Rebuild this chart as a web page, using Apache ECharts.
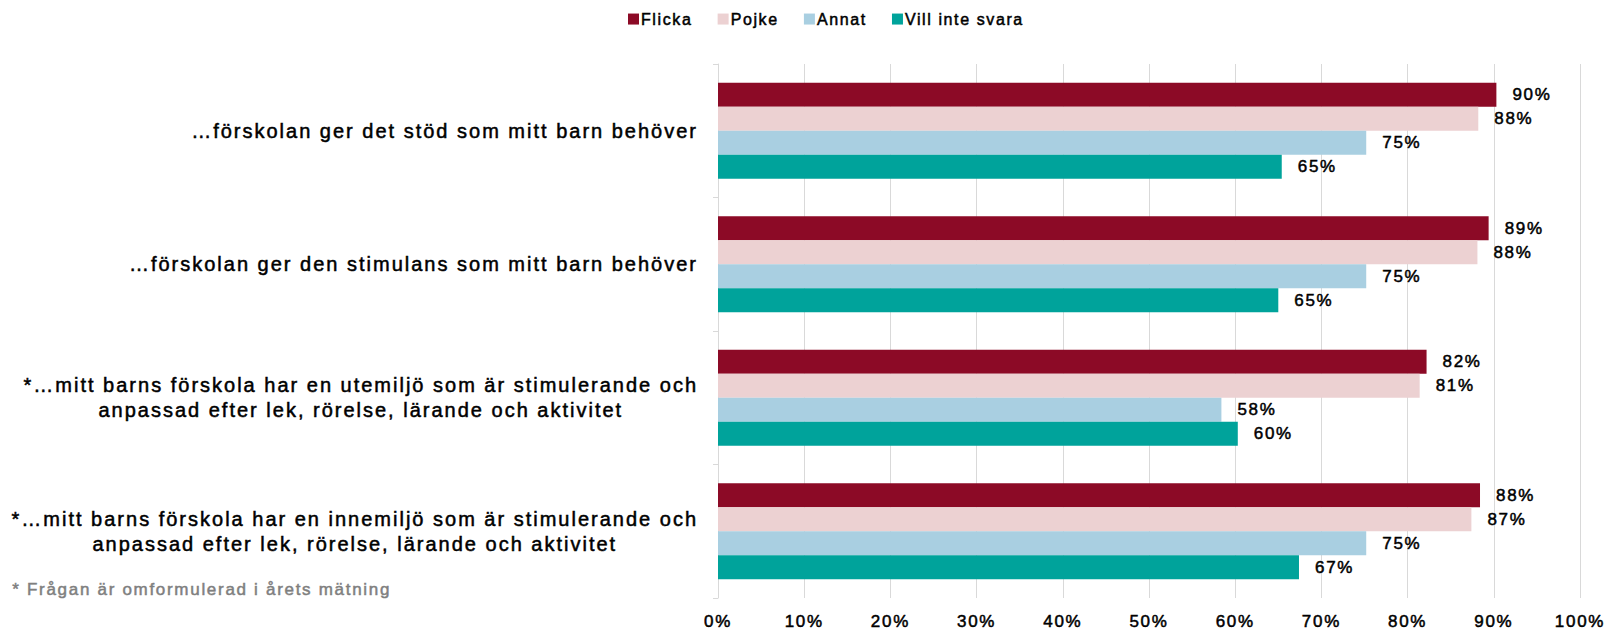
<!DOCTYPE html>
<html>
<head>
<meta charset="utf-8">
<script src="https://cdn.jsdelivr.net/npm/echarts@6/dist/echarts.min.js"></script>
<style>
    html, body {
        margin: 0;
        padding: 0;
        background: #fff;
    }
    #main {
        width: 1612px;
        height: 630px;
    }
    /* texten i originalet är spärrad */
    #main svg text {
        letter-spacing: 0.1em;
    }
</style>
</head>
<body>
<div id="main"></div>
<script>
const categories = [
    '…förskolan ger det stöd som mitt barn behöver',
    '…förskolan ger den stimulans som mitt barn behöver',
    '*…mitt barns förskola har en utemiljö som är stimulerande och\nanpassad efter lek, rörelse, lärande och aktivitet',
    '*…mitt barns förskola har en innemiljö som är stimulerande och\nanpassad efter lek, rörelse, lärande och aktivitet'
]
const flicka = [90.3, 89.4, 82.2, 88.4]
const pojke = [88.2, 88.1, 81.4, 87.4]
const annat = [75.2, 75.2, 58.4, 75.2]
const villInteSvara = [65.4, 65.0, 60.3, 67.4]
const xTicks = [0, 10, 20, 30, 40, 50, 60, 70, 80, 90, 100]
const footnote = '* Frågan är omformulerad i årets mätning'

const FONT = '"Liberation Sans", Arial, sans-serif'
const SPACING = 0.1

// mät texten med samma spärrning som CSS:en ovan
const measureCtx = document.createElement('canvas').getContext('2d')
echarts.setPlatformAPI({
    measureText(text, font) {
        measureCtx.font = font || '12px sans-serif'
        let m = /([\d.]+)px/.exec(measureCtx.font)
        let size = m ? parseFloat(m[1]) : 12
        return { width: measureCtx.measureText(text).width + SPACING * size * text.length }
    }
})

let myChart = echarts.init(document.getElementById('main'), null, { renderer: 'svg' })

// lite tjockare text, originalet är halvfett
const heavy = { textBorderColor: '#000', textBorderWidth: 0.5 }

const labelStyle = {
    show: true,
    position: 'right',
    distance: 16,
    color: '#000',
    fontFamily: FONT,
    fontSize: 17,
    ...heavy,
    formatter: p => Math.round(p.value) + '%'
}

const makeSeries = (name, data, color) => ({
    name: name,
    type: 'bar',
    data: data,
    barGap: '0%',
    barCategoryGap: '28%',
    itemStyle: { color: color },
    label: labelStyle
})

let option = {
    animation: false,
    textStyle: { fontFamily: FONT },
    legend: {
        left: 623,
        top: 5,
        icon: 'rect',
        itemWidth: 11,
        itemHeight: 11,
        itemGap: 25,
        textStyle: { fontSize: 16, color: '#000', fontFamily: FONT, padding: [0, 0, 0, -3], ...heavy },
        data: ['Flicka', 'Pojke', 'Annat', 'Vill inte svara']
    },
    grid: {
        left: 718,
        right: 32,
        top: 64,
        bottom: 32,
        containLabel: false,
        outerBoundsMode: 'none'
    },
    xAxis: {
        type: 'value',
        min: xTicks[0],
        max: xTicks[xTicks.length - 1],
        interval: 10,
        axisLine: { show: false },
        axisTick: { show: false },
        splitLine: { lineStyle: { color: '#d9d9d9', width: 1 } },
        axisLabel: {
            margin: 14,
            color: '#000',
            fontSize: 17,
            fontFamily: FONT,
            ...heavy,
            formatter: '{value}%'
        }
    },
    yAxis: {
        type: 'category',
        inverse: true,
        data: categories,
        axisLine: { show: true, lineStyle: { color: '#d9d9d9' } },
        axisTick: { show: true, length: 5, lineStyle: { color: '#d9d9d9' } },
        axisLabel: {
            margin: 20,
            align: 'right',
            lineHeight: 25,
            formatter: v => v.split('\n').map(s => '{c|' + s + '}').join('\n'),
            rich: {
                c: {
                    align: 'center',
                    color: '#000',
                    fontSize: 20,
                    lineHeight: 25,
                    fontFamily: FONT,
                    ...heavy
                }
            }
        }
    },
    graphic: [{
        type: 'text',
        left: 12,
        top: 580,
        style: {
            text: footnote,
            fill: '#7f7f7f',
            stroke: '#7f7f7f',
            lineWidth: 0.5,
            font: '17px ' + FONT
        }
    }],
    series: [
        makeSeries('Flicka', flicka, '#8c0a26'),
        makeSeries('Pojke', pojke, '#ecd1d2'),
        makeSeries('Annat', annat, '#a9cfe1'),
        makeSeries('Vill inte svara', villInteSvara, '#00a39b')
    ]
}
myChart.setOption(option)
window.addEventListener('resize', () => { myChart.resize() })
</script>
</body>
</html>
